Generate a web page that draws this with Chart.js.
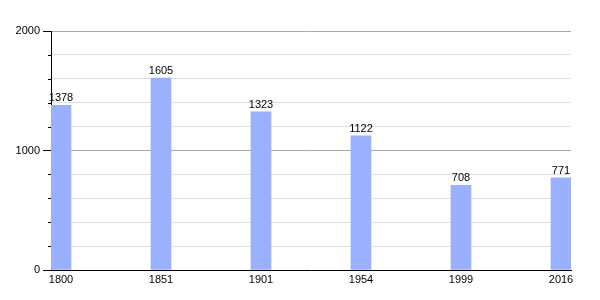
<!DOCTYPE html>
<html><head><meta charset="utf-8">
<script src="https://cdn.jsdelivr.net/npm/chart.js@4/dist/chart.umd.min.js"></script>
<style>html,body{margin:0;padding:0;background:#fff}#wrap{width:600px;height:300px}</style>
</head><body><div id="wrap"><canvas id="c" width="600" height="300"></canvas></div>
<script>
const categories = ['1800', '1851', '1901', '1954', '1999', '2016'];
const population = [1378, 1605, 1323, 1122, 708, 771];
const yTickLabels = [0, 1000, 2000];

const points = population.map((v, i) => ({x: i, y: v}));

const valueLabels = {
  id: 'valueLabels',
  afterDatasetsDraw(chart) {
    const ctx = chart.ctx;
    const meta = chart.getDatasetMeta(0);
    ctx.save();
    ctx.font = '11px "Liberation Sans", Arial, sans-serif';
    ctx.fillStyle = '#000';
    ctx.textAlign = 'center';
    ctx.textBaseline = 'alphabetic';
    meta.data.forEach((bar, i) => {
      ctx.fillText(String(population[i]), bar.x, bar.y - 4);
    });
    ctx.restore();
  }
};

const minorTicks = {
  id: 'minorTicks',
  afterDraw(chart) {
    const y = chart.scales.y;
    const ctx = chart.ctx;
    ctx.save();
    ctx.strokeStyle = '#000';
    ctx.lineWidth = 1;
    for (let v = 200; v < 2000; v += 200) {
      if (v % 1000 === 0) continue;
      const py = Math.round(y.getPixelForValue(v)) + 0.5;
      ctx.beginPath();
      ctx.moveTo(y.right - 3, py);
      ctx.lineTo(y.right, py);
      ctx.stroke();
    }
    ctx.restore();
  }
};

new Chart(document.getElementById('c'), {
  type: 'bar',
  data: {
    datasets: [{
      data: points,
      backgroundColor: 'rgb(153,176,255)',
      borderWidth: 0,
      barThickness: 20
    }]
  },
  options: {
    responsive: false,
    animation: false,
    events: [],
    layout: {padding: {top: 31, right: 29, bottom: 0, left: 0}},
    plugins: {legend: {display: false}, tooltip: {enabled: false}},
    scales: {
      x: {
        type: 'linear',
        offset: false,
        min: -0.1,
        max: 5.1,
        afterBuildTicks(scale) { scale.ticks = categories.map((c, i) => ({value: i})); },
        afterFit(scale) { scale.height = 30; },
        ticks: {
          autoSkip: false,
          maxRotation: 0,
          padding: 3,
          color: '#000',
          font: {family: '"Liberation Sans", Arial, sans-serif', size: 11},
          callback: (v) => categories[v] ?? ''
        },
        grid: {display: false, drawTicks: false},
        border: {display: true, color: '#000', width: 1}
      },
      y: {
        min: 0,
        max: 2000,
        afterBuildTicks(scale) {
          const t = [];
          for (let v = 0; v <= 2000; v += 200) t.push({value: v});
          scale.ticks = t;
        },
        afterFit(scale) { scale.width = 51; },
        ticks: {
          autoSkip: false,
          padding: 3,
          color: '#000',
          font: {family: '"Liberation Sans", Arial, sans-serif', size: 11},
          callback: (v) => yTickLabels.includes(v) ? String(v) : ''
        },
        grid: {
          drawTicks: true,
          tickLength: 8,
          tickColor: (ctx) => (ctx.tick && ctx.tick.value % 1000 === 0) ? '#000' : 'rgba(0,0,0,0)',
          color: (ctx) => (ctx.tick && ctx.tick.value % 1000 === 0) ? '#a8a8a8' : '#dedede',
          lineWidth: 1
        },
        border: {display: true, color: '#000', width: 1}
      }
    }
  },
  plugins: [valueLabels, minorTicks]
});
</script>
</body></html>
